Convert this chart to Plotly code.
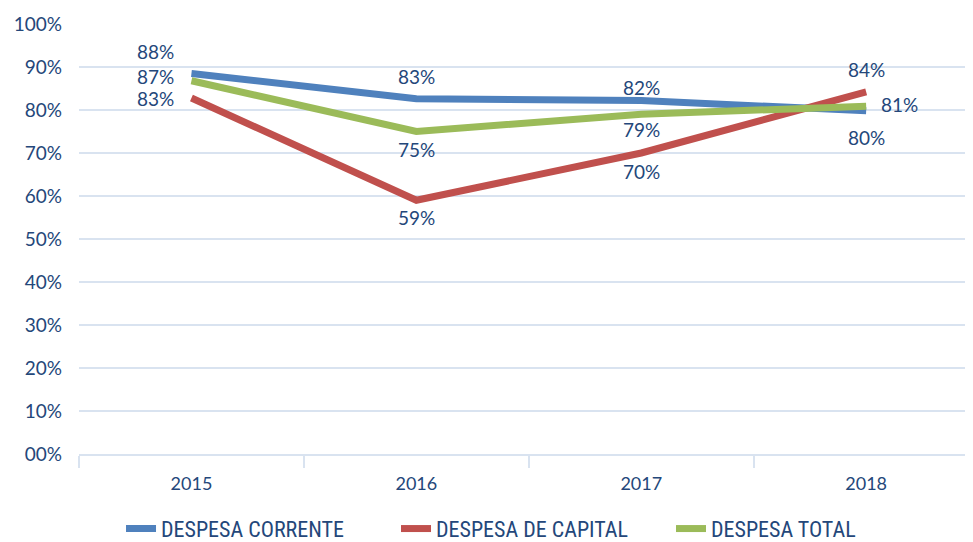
import plotly.graph_objects as go

years = ["2015", "2016", "2017", "2018"]
corrente = [0.885, 0.826, 0.822, 0.798]
capital = [0.828, 0.590, 0.700, 0.842]
total = [0.868, 0.750, 0.790, 0.809]
y_ticks = [0, 0.1, 0.2, 0.3, 0.4, 0.5, 0.6, 0.7, 0.8, 0.9, 1.0]
y_ticktext = ["00%", "10%", "20%", "30%", "40%", "50%", "60%", "70%", "80%", "90%", "100%"]

txt_color = "#24477A"
font_family = "Lato, Open Sans, sans-serif"
legend_family = "Roboto Condensed, Lato, sans-serif"

fig = go.Figure()
series = [
    ("DESPESA CORRENTE", corrente, "#4F81BD"),
    ("DESPESA DE CAPITAL", capital, "#C0504D"),
    ("DESPESA TOTAL", total, "#9BBB59"),
]
for name, vals, col in series:
    fig.add_trace(go.Scatter(
        x=years, y=vals, name=name, mode="lines",
        line=dict(color=col, width=7),
        hoverinfo="y",
    ))

# label offsets (xshift, yshift) in px per series / point
offsets = {
    "DESPESA CORRENTE": [(-36, 22), (0, 22), (0, 13), (0, -27)],
    "DESPESA DE CAPITAL": [(-36, -1), (0, -17), (0, -18), (0, 22)],
    "DESPESA TOTAL": [(-36, 4), (0, -18), (0, -15), (33, 2)],
}
for name, vals, col in series:
    for i, v in enumerate(vals):
        dx, dy = offsets[name][i]
        fig.add_annotation(
            x=i, y=v, xref="x", yref="y",
            text=f"{round(v * 100):.0f}%", showarrow=False,
            xshift=dx, yshift=dy,
            font=dict(size=19, color=txt_color, family=font_family),
        )

# page body has an 8px margin, so the figure is sized/shifted to compensate
fig.update_layout(
    width=965, height=534,
    margin=dict(l=71, r=0, t=16, b=88, autoexpand=False),
    paper_bgcolor="white", plot_bgcolor="white",
    font=dict(family=font_family, color=txt_color, size=18),
    showlegend=True,
    legend=dict(orientation="h", x=0.047, xanchor="left", y=-0.125, yanchor="top",
                font=dict(size=22, color=txt_color, family=legend_family),
                entrywidth=230, itemwidth=30, tracegroupgap=0),
    xaxis=dict(
        type="category", range=[-0.5, 3.475],
        showgrid=False, showline=True, linecolor="#D9E3F0", linewidth=2,
        ticks="outside", tickson="boundaries", ticklen=12, tickcolor="#D9E3F0", tickwidth=2,
        tickfont=dict(size=18, color=txt_color), ticklabelstandoff=12,
    ),
    yaxis=dict(
        range=[0, 1.0], tickvals=y_ticks, ticktext=y_ticktext,
        showgrid=True, gridcolor="#D9E3F0", gridwidth=2, zeroline=False,
        showline=False, tickfont=dict(size=19, color=txt_color), ticklabelstandoff=16,
    ),
)

fig.write_html("out.html")
